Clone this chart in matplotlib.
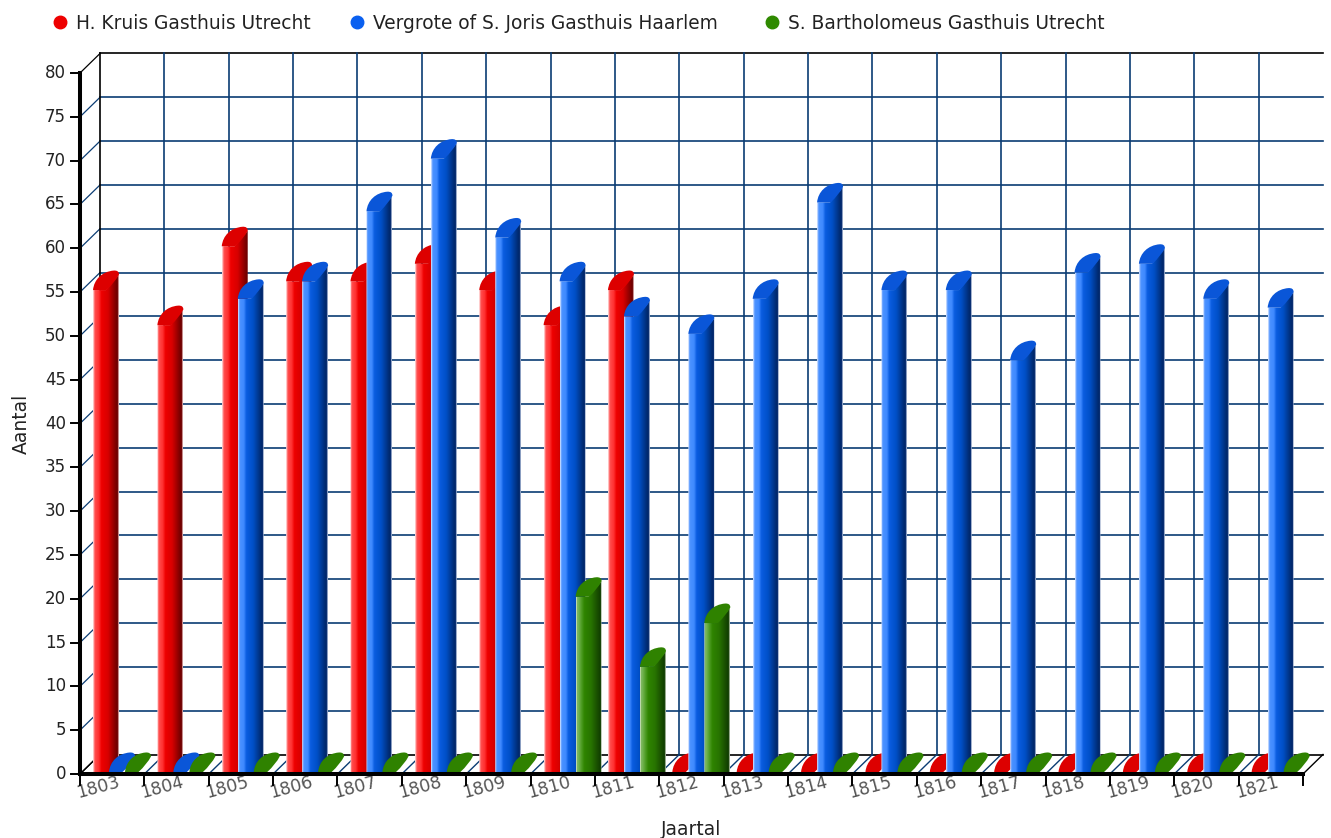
#!/usr/bin/env python
# -*- coding: utf-8 -*-

import numpy as np
import matplotlib
matplotlib.use('Agg')
import matplotlib.pyplot as plt
from matplotlib.colors import LinearSegmentedColormap
from matplotlib.patches import PathPatch
from matplotlib.path import Path

plt.rcParams['font.family'] = ['DejaVu Sans']

jaren = ['1803', '1804', '1805', '1806', '1807', '1808', '1809', '1810', '1811', '1812',
         '1813', '1814', '1815', '1816', '1817', '1818', '1819', '1820', '1821']
kruis = [55, 51, 60, 56, 56, 58, 55, 51, 55, 0, 0, 0, 0, 0, 0, 0, 0, 0, 0]
joris = [0, 0, 54, 56, 64, 70, 61, 56, 52, 50, 54, 65, 55, 55, 47, 57, 58, 54, 53]
bartholomeus = [0, 0, 0, 0, 0, 0, 0, 20, 12, 17, 0, 0, 0, 0, 0, 0, 0, 0, 0]
namen = ['H. Kruis Gasthuis Utrecht', 'Vergrote of S. Joris Gasthuis Haarlem',
         'S. Bartholomeus Gasthuis Utrecht']

W, H = 1331, 838
# pixels per data unit
px_x = 1223 / 19
px_y = 701 / 80
dx = 20 / px_x
dy = 19.5 / px_y
lift = 2 / px_y
grid = '#0b3c73'

fig = plt.figure(figsize=(W / 100, H / 100), dpi=100)
ax = fig.add_axes([80 / W, (H - 774) / H, 1223 / W, 701 / H])
ax.set_axis_off()

n = len(jaren)
yticks = np.arange(0, 85, 5)

# back wall and grid
for v in yticks:
    c = 'black' if v in (0, 80) else grid
    ax.plot([dx, n + dx], [v + dy, v + dy], color=c, lw=1.2, zorder=1, clip_on=False)
    ax.plot([0, dx], [v, v + dy], color=c, lw=0.9, zorder=1, clip_on=False)
for i in range(n + 1):
    c = 'black' if i in (0, n) else grid
    if i < n:
        ax.plot([i + dx, i + dx], [dy, 80 + dy], color=c, lw=1.2, zorder=1, clip_on=False)
    ax.plot([i, i + dx], [0, dy], color=c, lw=1.0, zorder=1, clip_on=False)

posities = [0, 0.03, 0.07, 0.22, 0.32, 0.58, 0.9, 0.97, 1]
kleuren = {
    'r': ['#ffe0e0', '#ff9090', '#ff4c4c', '#ff3030', '#ee0000', '#d80000', '#780000', '#680000', '#ffe0e0'],
    'b': ['#dde8ff', '#80b0ff', '#4a92ff', '#3f8aff', '#0a5ce0', '#0050c8', '#002a70', '#00256a', '#dde4f4'],
    'g': ['#e4f0dc', '#78b058', '#7ab85a', '#4a9a20', '#2f8400', '#287400', '#144400', '#0e3a00', '#e0e8d8'],
}
kap = {'r': '#dd0000', 'b': '#0a56d8', 'g': '#2f8200'}


def staaf(x0, waarde, kleur, z):
    b = 26 / px_x
    t = waarde + lift
    # cylinder body with a horizontal colour gradient, nothing below a zero cap
    if waarde > 0:
        cmap = LinearSegmentedColormap.from_list(kleur, list(zip(posities, kleuren[kleur])))
        grad = np.linspace(0, 1, 52).reshape(1, -1)
        im = ax.imshow(grad, extent=[x0, x0 + b, 0, t + dy], cmap=cmap, aspect='auto',
                       zorder=z, interpolation='bilinear')
        rand = [(x0, 0), (x0 + b, 0), (x0 + b, t + 0.8 * dy), (x0 + 0.5 * b, t), (x0, t), (x0, 0)]
        clip = PathPatch(Path(rand), transform=ax.transData, fc='none', ec='none')
        ax.add_patch(clip)
        im.set_clip_path(clip)
    # slanted top
    codes = [Path.MOVETO, Path.CURVE4, Path.CURVE4, Path.CURVE4, Path.CURVE3, Path.CURVE3,
             Path.CURVE3, Path.CURVE3, Path.LINETO, Path.CLOSEPOLY]
    verts = [(x0, t), (x0 + 0.04 * b, t + 0.55 * dy), (x0 + 0.35 * b, t + 0.95 * dy), (x0 + 0.8 * b, t + dy),
             (x0 + b, t + 1.02 * dy), (x0 + b, t + 0.8 * dy),
             (x0 + 0.85 * b, t + 0.4 * dy), (x0 + 0.52 * b, t), (x0, t), (x0, t)]
    ax.add_patch(PathPatch(Path(verts, codes), fc=kap[kleur], ec='none', zorder=z + 0.1, clip_on=False))


for s, (reeks, kleur) in enumerate(zip([kruis, joris, bartholomeus], ['r', 'b', 'g'])):
    for i, v in enumerate(reeks):
        staaf(i + (13 + 16 * s) / px_x, v, kleur, 3 + i * 0.5 + s * 0.1)

# front axes
ax.plot([0, 0], [0, 80], color='black', lw=2.9, zorder=20, solid_capstyle='projecting', clip_on=False)
ax.plot([0, n], [0, 0], color='black', lw=2.9, zorder=20, solid_capstyle='projecting', clip_on=False)
for v in yticks:
    ax.plot([-9 / px_x, 0], [v, v], color='black', lw=1.4, zorder=20, clip_on=False)
    ax.text(-14 / px_x, v, str(v), ha='right', va='center', fontsize=12, color='#222222')
for i in range(n + 1):
    ax.plot([i, i], [0, -11 / px_y], color='black', lw=1.4, zorder=20, clip_on=False)
for i, jaar in enumerate(jaren):
    ax.text(i + 0.28, -13 / px_y, jaar, ha='center', va='center', rotation=15, fontsize=12.5, color='#555555')

ax.set_xlim(0, n)
ax.set_ylim(0, 80)

fig.text(21 / W, 1 - 424 / H, 'Aantal', rotation=90, ha='center', va='center', fontsize=13.5, color='#222222')
fig.text(691 / W, 1 - 829 / H, 'Jaartal', ha='center', va='center', fontsize=13.5, color='#222222')

# legend
lx = [60, 357, 772]
for naam, x, c in zip(namen, lx, ['#ee0000', '#0a60f0', '#2f8a00']):
    fig.add_artist(plt.Line2D([x / W], [1 - 22 / H], marker='o', ms=9, color=c, mec=c, ls='none'))
    fig.text((x + 16) / W, 1 - 23.5 / H, naam, ha='left', va='center', fontsize=13.4, color='#222222')

fig.savefig('out.png', dpi=100)
